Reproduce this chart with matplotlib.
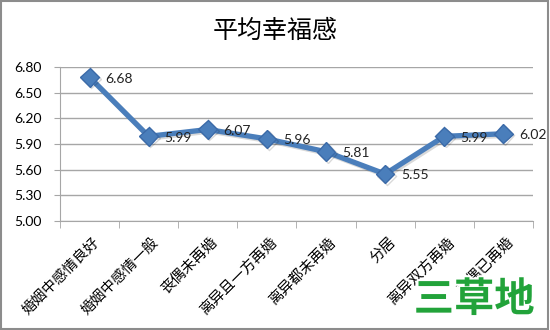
import matplotlib
matplotlib.use("Agg")
import matplotlib.pyplot as plt
from matplotlib.patches import Rectangle
import matplotlib.patheffects as pe
import matplotlib.transforms as mtrans

plt.rcParams['font.family'] = ['Noto Sans CJK SC', 'DejaVu Sans']

categories = ["婚姻中感情良好", "婚姻中感情一般", "丧偶未再婚", "离异且一方再婚",
              "离异都未再婚", "分居", "离异双方再婚", "丧偶已再婚"]
values = [6.68, 5.99, 6.07, 5.96, 5.81, 5.55, 5.99, 6.02]
yticks = [5.00, 5.30, 5.60, 5.90, 6.20, 6.50, 6.80]
title = "平均幸福感"
watermark = "三草地"

fig = plt.figure(figsize=(5.5, 3.3), dpi=100)
fig.patches.append(Rectangle((0.002, 0.003), 0.995, 0.993, transform=fig.transFigure,
                             fill=False, edgecolor='#8c8c8c', linewidth=1.5))
ax = fig.add_axes([0.109, 0.330, 0.860, 0.467])

x = list(range(len(categories)))
line_color = '#4a7ebb'
ax.plot(x, values, color=line_color, linewidth=3.8, marker='D', markersize=9.5,
        markerfacecolor=line_color, markeredgecolor='#3b6aa8', zorder=3,
        path_effects=[pe.SimpleLineShadow(offset=(1.2, -1.2), alpha=0.15), pe.Normal()])
for xi, v in zip(x, values):
    ax.annotate(f"{v:.2f}", (xi, v), xytext=(11.5, -1), textcoords='offset points',
                ha='left', va='center', fontsize=10, color='#222222',
                family=['Lato', 'DejaVu Sans'])

ax.set_xlim(-0.5, len(categories) - 0.5)
ax.set_ylim(5.0, 6.8)
ax.set_yticks(yticks)
ax.set_yticklabels([f"{t:.2f}" for t in yticks], fontsize=10, family=['Lato', 'DejaVu Sans'])
ax.yaxis.grid(True, color='#a6a6a6', linewidth=1)
ax.set_axisbelow(True)
ax.tick_params(axis='y', length=4, color='#a6a6a6', pad=9)

ax.set_xticks([i - 0.5 for i in range(len(categories) + 1)], minor=True)
ax.set_xticks(x)
ax.set_xticklabels(categories, rotation=45, ha='right', rotation_mode='anchor',
                   fontsize=10.5)
ax.tick_params(axis='x', which='major', length=0, pad=10)
ax.tick_params(axis='x', which='minor', length=5, color='#a6a6a6')
for s in ['top', 'right']:
    ax.spines[s].set_visible(False)
for s in ['left', 'bottom']:
    ax.spines[s].set_color('#a6a6a6')

off = mtrans.ScaledTranslation(2/72, 0, fig.dpi_scale_trans)
for lbl in ax.get_xticklabels():
    lbl.set_transform(lbl.get_transform() + off)

fig.text(0.5, 0.905, title, ha='center', va='center', fontsize=18)
fig.text(0.862, 0.091, watermark, ha='center', va='center', fontsize=29,
         fontweight='bold', color='#22a33a',
         path_effects=[pe.withStroke(linewidth=3, foreground='white')])

fig.savefig("out.png", dpi=100)
